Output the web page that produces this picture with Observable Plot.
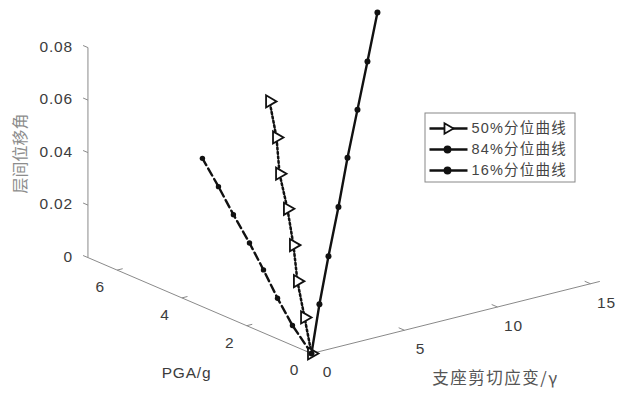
<!DOCTYPE html>
<html><head><meta charset="utf-8">
<script src="https://cdn.jsdelivr.net/npm/d3@7"></script>
<script src="https://cdn.jsdelivr.net/npm/@observablehq/plot@0.6"></script>
<style>body{margin:0;background:#fff}</style>
</head><body><div id="chart"></div>
<script>
// ---- data (PGA/g, bearing shear strain γ, inter-storey drift) ----
const pga = [0, 0.8, 1.6, 2.4, 3.2, 4.0, 4.8, 5.6];
const strain50 = [0, 1.02, 2.03, 3.21, 4.28, 5.25, 6.48, 7.50];
const drift50  = [0, 0.0077, 0.0155, 0.0229, 0.0306, 0.0380, 0.0454, 0.0531];
const strain84 = [0, 1.82, 3.70, 5.63, 7.51, 9.44, 11.37, 13.30];
const drift84  = [0, 0.0113, 0.0220, 0.0331, 0.0443, 0.0550, 0.0657, 0.0767];
const strain16 = [0, 0.37, 0.96, 1.60, 2.24, 2.77, 3.36, 3.89];
const drift16  = [0, 0.0058, 0.0109, 0.0163, 0.0212, 0.0268, 0.0322, 0.0378];
const seriesNames = ["50%分位曲线", "84%分位曲线", "16%分位曲线"];
const pgaTicks = [0, 2, 4, 6];
const strainTicks = [0, 5, 10, 15];
const driftTicks = [0, 0.02, 0.04, 0.06, 0.08];
const pgaMax = 6.9, strainMax = 15.5, driftMax = 0.08;

// ---- oblique 3D projection (view settings) ----
const O = [311, 353], uP = [-32.4, -13.9], uS = [18.6, -4.65], uD = [0, -2625];
const proj = (p, s, d) => [O[0] + p*uP[0] + s*uS[0] + d*uD[0], O[1] + p*uP[1] + s*uS[1] + d*uD[1]];

const pts = [];
[[strain50, drift50], [strain84, drift84], [strain16, drift16]].forEach(([S, D], k) => {
  pga.forEach((p, i) => { const [x, y] = proj(p, S[i], D[i]); pts.push({series: seriesNames[k], x, y}); });
});
const seg = (a, b) => { const [x1, y1] = proj(...a), [x2, y2] = proj(...b); return {x1, y1, x2, y2}; };
const axes = [seg([0,0,0],[pgaMax,0,0]), seg([0,0,0],[0,strainMax,0]), seg([pgaMax,0,0],[pgaMax,0,driftMax])];
const ticks = [
  ...pgaTicks.map(t => seg([t,0,0],[t,0.3,0])),
  ...strainTicks.map(t => seg([0,t,0],[0.18,t,0])),
  ...driftTicks.map(t => seg([pgaMax,0,t],[pgaMax+0.15,0,t]))
];
const pgaLab = pgaTicks.map(t => { const [x, y] = proj(t,0,0); return {x: x-17, y: y+17, t: String(t)}; });
const strLab = strainTicks.map(t => { const [x, y] = proj(0,t,0); return {x: x+16, y: y+19, t: String(t)}; });
const drLab = driftTicks.map(t => { const [x, y] = proj(pgaMax,0,t); return {x: x-15, y: y-1, t: t === 0 ? "0" : t.toFixed(2)}; });

const sel = n => pts.filter(d => d.series === n);
const legend = seriesNames.map((n, i) => ({n, y: 128 + i*21}));
const dash = {"50%分位曲线": "2,3", "84%分位曲线": null, "16%分位曲线": "8,4"};
const lat = "Liberation Sans, Arial, sans-serif";

const chart = Plot.plot({
  width: 627, height: 396, margin: 0,
  x: {type: "identity", axis: null}, y: {type: "identity", axis: null},
  style: {fontFamily: lat, fontSize: "15px", background: "#fff"},
  marks: [
    Plot.link(axes, {x1: "x1", y1: "y1", x2: "x2", y2: "y2", stroke: "#8a8a8a", strokeWidth: 1}),
    Plot.link(ticks, {x1: "x1", y1: "y1", x2: "x2", y2: "y2", stroke: "#8a8a8a", strokeWidth: 1}),
    Plot.text(drLab, {x: "x", y: "y", text: "t", textAnchor: "end", fill: "#3c3c3c", fontSize: 15.5, className: "lat"}),
    Plot.text(pgaLab, {x: "x", y: "y", text: "t", fill: "#3c3c3c", fontSize: 15.5, className: "lat"}),
    Plot.text(strLab, {x: "x", y: "y", text: "t", fill: "#3c3c3c", fontSize: 15.5, className: "lat"}),
    Plot.text(["PGA/g"], {x: 186, y: 373, text: d => d, fill: "#3c3c3c", fontSize: 15.5, className: "lat"}),
    Plot.text(["支座剪切应变/γ"], {x: 495, y: 378, text: d => d, fill: "#555", fontSize: 16.5, fontFamily: "Noto Sans CJK SC", className: "cjk"}),
    Plot.text(["层间位移角"], {x: 20, y: 153, text: d => d, rotate: -90, fill: "#8c8c8c", fontSize: 16, fontFamily: "Noto Sans CJK SC"}),
    Plot.line(sel(seriesNames[2]), {x: "x", y: "y", stroke: "#111", strokeWidth: 2.4, strokeDasharray: "8,4"}),
    Plot.dot(sel(seriesNames[2]), {x: "x", y: "y", r: 2.7, fill: "#111"}),
    Plot.line(sel(seriesNames[0]), {x: "x", y: "y", stroke: "#111", strokeWidth: 2.5, strokeDasharray: "2,2.5"}),
    Plot.dot(sel(seriesNames[0]), {x: "x", y: "y", r: 4.5, symbol: "triangle", rotate: 90, fill: "#fff", stroke: "#111", strokeWidth: 1.8}),
    Plot.line(sel(seriesNames[1]), {x: "x", y: "y", stroke: "#111", strokeWidth: 2.4}),
    Plot.dot(sel(seriesNames[1]), {x: "x", y: "y", r: 3, fill: "#111"}),
    // legend
    Plot.rect([0], {x1: 425, x2: 575, y1: 113, y2: 182, fill: "#fff", stroke: "#888", strokeWidth: 1}),
    Plot.link(legend, {x1: 429, x2: 467, y1: "y", y2: "y", stroke: "#111", strokeWidth: 2.4, strokeDasharray: d => dash[d.n]}),
    Plot.dot(legend, {x: 447, y: "y", r: d => d.n.startsWith("50") ? 4.5 : 2.7,
      symbol: d => d.n.startsWith("50") ? "triangle" : "circle",
      rotate: d => d.n.startsWith("50") ? 90 : 0,
      fill: d => d.n.startsWith("50") ? "#fff" : "#111", stroke: "#111", strokeWidth: 1.8}),
    Plot.text(legend, {x: 471, y: "y", text: "n", textAnchor: "start", fill: "#444", fontSize: 14.5, fontFamily: "Liberation Sans, Noto Sans CJK SC", className: "leg"})
  ]
});
d3.select(chart).selectAll("g.lat text").attr("letter-spacing", "0.8px");
d3.select(chart).selectAll("g.leg text").attr("letter-spacing", "1.2px");
d3.select(chart).selectAll("g.cjk text").attr("letter-spacing", "1.5px");
document.getElementById("chart").appendChild(chart);
</script>
</body></html>
